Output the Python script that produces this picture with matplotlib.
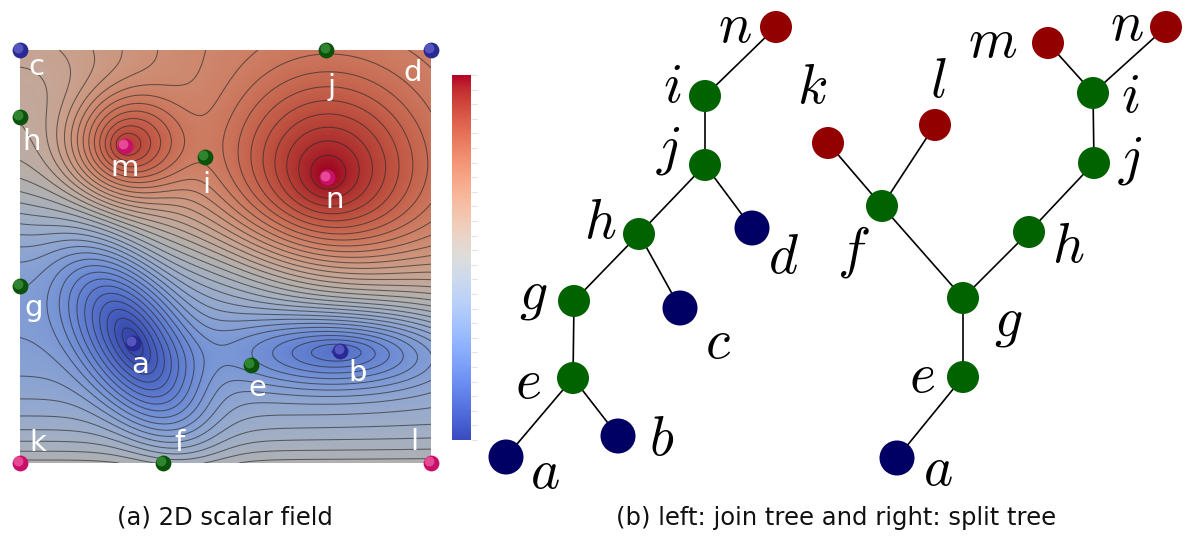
import numpy as np
import matplotlib
matplotlib.use("Agg")
import matplotlib.pyplot as plt
from matplotlib.patches import Circle
from matplotlib.colors import ListedColormap, Normalize

# ---------------- scalar field: critical points (unit square, v grows downward) ----------------
cp_names = ['c', 'j', 'd', 'h', 'm', 'i', 'n', 'g', 'a', 'e', 'b', 'k', 'f', 'l']
cp_u = [0.0, 0.745, 1.0, 0.0, 0.255, 0.450, 0.747, 0.0, 0.275, 0.562, 0.779, 0.0, 0.348, 1.0]
cp_v = [0.0, 0.0, 0.0, 0.162, 0.232, 0.259, 0.308, 0.571, 0.709, 0.763, 0.729, 1.0, 1.0, 1.0]
cp_kind = ['min', 'sad', 'min', 'sad', 'max', 'sad', 'max', 'sad', 'min', 'sad', 'min', 'max', 'sad', 'max']
cp_label_u = [0.041, 0.759, 0.956, 0.029, 0.255, 0.453, 0.766, 0.032, 0.292, 0.577, 0.822, 0.044, 0.389, 0.959]
cp_label_v = [0.041, 0.090, 0.056, 0.223, 0.286, 0.327, 0.363, 0.625, 0.763, 0.818, 0.782, 0.952, 0.952, 0.949]

# warm upper plateau / cool lower plateau separated by a tilted band
plateau_hi, plateau_lo = 0.74, 0.27
band_v_left, band_v_right, band_width = 0.40, 0.60, 0.17
bottom_lift, bottom_reach = 0.24, 0.18
corner_drop, corner_u, corner_v, corner_reach = 0.14, 0.0, 0.12, 0.22

# cone-shaped bumps: centre, height, radii, rotation (deg)
bump_u = [0.255, 0.747, 0.275, 0.779]
bump_v = [0.232, 0.308, 0.709, 0.729]
bump_amp = [0.28, 0.28, -0.31, -0.23]
bump_su = [0.18, 0.32, 0.34, 0.34]
bump_sv = [0.17, 0.32, 0.16, 0.12]
bump_rot = [0.0, 0.0, 62.0, 0.0]
n_levels = 38

# ---------------- join tree ----------------
join_names = ['n', 'i', 'j', 'h', 'd', 'g', 'c', 'e', 'b', 'a']
join_x = [776, 705, 705, 639, 752, 574, 680, 573, 618, 506]
join_y = [27, 96, 165, 234, 228, 301, 308, 378, 436, 457]
join_kind = ['max', 'sad', 'sad', 'sad', 'min', 'sad', 'min', 'sad', 'min', 'min']
join_label_x = [735, 672, 668, 600, 783, 533, 718, 528, 662, 545]
join_label_y = [27, 87, 150, 223, 258, 295, 343, 383, 440, 473]
join_edges = [('n', 'i'), ('i', 'j'), ('j', 'h'), ('j', 'd'), ('h', 'g'),
              ('h', 'c'), ('g', 'e'), ('e', 'a'), ('e', 'b')]

# ---------------- split tree ----------------
split_names = ['k', 'l', 'm', 'n', 'i', 'j', 'f', 'h', 'g', 'e', 'a']
split_x = [828, 935, 1048, 1166, 1093, 1094, 882, 1029, 963, 963, 897]
split_y = [143, 125, 43, 27, 93, 163, 206, 232, 298, 377, 458]
split_kind = ['max', 'max', 'max', 'max', 'sad', 'sad', 'sad', 'sad', 'sad', 'sad', 'min']
split_label_x = [812, 938, 993, 1127, 1130, 1130, 853, 1068, 1008, 922, 938]
split_label_y = [88, 82, 42, 25, 97, 160, 252, 247, 322, 377, 470]
split_edges = [('k', 'f'), ('l', 'f'), ('f', 'g'), ('m', 'i'), ('n', 'i'),
               ('i', 'j'), ('j', 'h'), ('h', 'g'), ('g', 'e'), ('e', 'a')]

captions = ['(a) 2D scalar field', '(b) left: join tree and right: split tree']

# ---------------- figure ----------------
W, H = 1184, 538
fig = plt.figure(figsize=(W / 100, H / 100), dpi=100)
fig.patch.set_facecolor('white')

canvas = fig.add_axes([0, 0, 1, 1])
canvas.set_xlim(0, W)
canvas.set_ylim(H, 0)
canvas.axis('off')

# scalar field panel (pixel box)
fx0, fy0, fw, fh = 20, 50, 411, 413
fax = fig.add_axes([fx0 / W, (H - fy0 - fh) / H, fw / W, fh / H])
fax.set_xlim(0, 1)
fax.set_ylim(1, 0)
fax.axis('off')


def soft_cone(r, k=6.0):
    """Cone of unit height and unit radius with a rounded rim."""
    return np.log1p(np.exp(k * (1.0 - r))) / k


uu, vv = np.meshgrid(np.linspace(0, 1, 500), np.linspace(0, 1, 500))
band_v = band_v_left + (band_v_right - band_v_left) * uu
field = (0.5 * (plateau_hi + plateau_lo)
         + 0.5 * (plateau_hi - plateau_lo) * np.tanh((band_v - vv) / band_width))
field += bottom_lift * np.exp(-(1.0 - vv) / bottom_reach)
field -= corner_drop * np.exp(-((uu - corner_u) ** 2 + (vv - corner_v) ** 2) / (2 * corner_reach ** 2))
for bu, bv, amp, su, sv, rot in zip(bump_u, bump_v, bump_amp, bump_su, bump_sv, bump_rot):
    t = np.deg2rad(rot)
    du, dv = uu - bu, vv - bv
    p = du * np.cos(t) + dv * np.sin(t)
    q = -du * np.sin(t) + dv * np.cos(t)
    rr = np.sqrt((p / su) ** 2 + (q / sv) ** 2 + 0.002)
    field += amp * soft_cone(rr)

base = plt.get_cmap('coolwarm')(np.linspace(0, 1, 256))
tt = np.linspace(0, 1, 256)
shade = 0.80 + 0.08 * np.abs(2 * tt - 1)
shaded = base.copy()
shaded[:, :3] = base[:, :3] * shade[:, None]
field_cmap = ListedColormap(shaded)
norm = Normalize(field.min(), field.max())

fax.imshow(field, cmap=field_cmap, norm=norm, extent=(0, 1, 1, 0),
           origin='upper', interpolation='bilinear', aspect='auto')
levels = np.linspace(field.min(), field.max(), n_levels)[1:-1]
fax.contour(uu, vv, field, levels=levels, colors='#2a2a2a', linewidths=0.75,
            alpha=0.65, negative_linestyles='solid')

sphere_cols = {'min': ('#2a2a95', '#7a7ae0'),
               'sad': ('#0b520b', '#4fae4f'),
               'max': ('#c8106a', '#ff7ab8')}
for u, v, kind in zip(cp_u, cp_v, cp_kind):
    dark, light = sphere_cols[kind]
    fax.scatter([u], [v], s=130, color=dark, zorder=5, clip_on=False, linewidths=0)
    fax.scatter([u - 0.004], [v - 0.004], s=50, color=light, alpha=0.55,
                zorder=6, clip_on=False, linewidths=0)
for name, u, v in zip(cp_names, cp_label_u, cp_label_v):
    fax.text(u, v, name, color='white', fontsize=21, ha='center', va='center',
             family='DejaVu Sans', zorder=7)

# colour bar
cax = fig.add_axes([452 / W, (H - 440) / H, 19 / W, 365 / H])
grad = np.linspace(1, 0, 256)[:, None]
cax.imshow(grad, cmap='coolwarm', aspect='auto', extent=(0, 1, 0, 1))
cax.set_xticks([])
cax.yaxis.tick_right()
cax.set_yticks(np.linspace(0, 1, 26))
cax.set_yticklabels([])
cax.tick_params(axis='y', length=4, color='#e4e4e4', width=0.8)
for sp in cax.spines.values():
    sp.set_visible(False)

# ---------------- trees ----------------
node_style = {'max': ('#930000', 16), 'sad': ('#006300', 16), 'min': ('#000064', 17.5)}


def draw_tree(names, xs, ys, kinds, lx, ly, edges):
    pos = {n: (x, y) for n, x, y in zip(names, xs, ys)}
    for a, b in edges:
        canvas.plot([pos[a][0], pos[b][0]], [pos[a][1], pos[b][1]],
                    color='black', lw=1.2, zorder=2, solid_capstyle='round')
    for n, x, y, k in zip(names, xs, ys, kinds):
        col, r = node_style[k]
        canvas.add_patch(Circle((x, y), r, facecolor=col, edgecolor='none', zorder=3))
    for n, x, y in zip(names, lx, ly):
        canvas.text(x, y, '$' + n + '$', fontsize=40, ha='center', va='center',
                    math_fontfamily='cm', zorder=4)


draw_tree(join_names, join_x, join_y, join_kind, join_label_x, join_label_y, join_edges)
draw_tree(split_names, split_x, split_y, split_kind, split_label_x, split_label_y, split_edges)

# ---------------- captions ----------------
for txt, cx in zip(captions, [225, 836]):
    canvas.text(cx, 518, txt, fontsize=17.5, ha='center', va='center',
                family='DejaVu Sans', color='#111111')

fig.savefig('out.png', dpi=100, facecolor='white')
